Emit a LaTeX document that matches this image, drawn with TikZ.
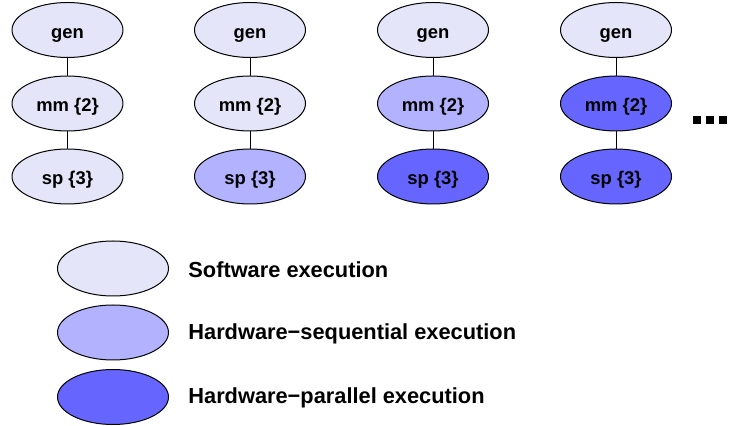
\documentclass[tikz,border=0pt]{standalone}
\usepackage{fontspec}
\setmainfont{Liberation Sans}
\usetikzlibrary{shapes.geometric}

\definecolor{swcol}{RGB}{229,229,250}
\definecolor{hwseq}{RGB}{178,178,255}
\definecolor{hwpar}{RGB}{102,102,255}

\tikzset{
  task/.style={ellipse,draw,line width=0.5pt,minimum width=55.5pt,minimum height=27.5pt,
    inner sep=0pt,text height=8.5pt,text depth=0pt,font=\fontsize{9.2}{11}\selectfont\bfseries},
  legtext/.style={anchor=west,inner sep=0pt,font=\fontsize{10.9}{13}\selectfont\bfseries},
  dot/.style={fill=black,minimum size=4pt,inner sep=0pt}
}

\begin{document}
\begin{tikzpicture}[line cap=round,line join=round,x=0.5pt,y=-0.5pt]
\useasboundingbox (0,0) rectangle (729,426);

% first configuration: all software
\node[task,fill=swcol] (gen1) at (67.5,30) {gen};
\node[task,fill=swcol] (mm1) at (67.5,103.5) {mm \{2\}};
\node[task,fill=swcol] (sp1) at (67.5,176.5) {sp \{3\}};

% second configuration
\node[task,fill=swcol] (gen2) at (250,30) {gen};
\node[task,fill=swcol] (mm2) at (250,103.5) {mm \{2\}};
\node[task,fill=hwseq] (sp2) at (250,176.5) {sp \{3\}};

% third configuration
\node[task,fill=swcol] (gen3) at (433,30) {gen};
\node[task,fill=hwseq] (mm3) at (433,103.5) {mm \{2\}};
\node[task,fill=hwpar] (sp3) at (433,176.5) {sp \{3\}};

% fourth configuration
\node[task,fill=swcol] (gen4) at (616,30) {gen};
\node[task,fill=hwpar] (mm4) at (616,103.5) {mm \{2\}};
\node[task,fill=hwpar] (sp4) at (616,176.5) {sp \{3\}};

\foreach \i in {1,2,3,4} {
  \draw[line width=0.5pt] (gen\i) -- (mm\i);
  \draw[line width=0.5pt] (mm\i) -- (sp\i);
}

% more to come
\node[dot] (d1) at (697,120) {};
\node[dot] (d2) at (710,120) {};
\node[dot] (d3) at (723,120) {};

% legend
\node[task,fill=swcol] (leg1) at (113,268.5) {};
\node[task,fill=hwseq] (leg2) at (113,332.5) {};
\node[task,fill=hwpar] (leg3) at (113,397) {};

\node[legtext] (txt1) at (188,270) {Software execution};
\node[legtext] (txt2) at (188,334) {Hardware−sequential execution};
\node[legtext] (txt3) at (188,398) {Hardware−parallel execution};
\end{tikzpicture}
\end{document}
